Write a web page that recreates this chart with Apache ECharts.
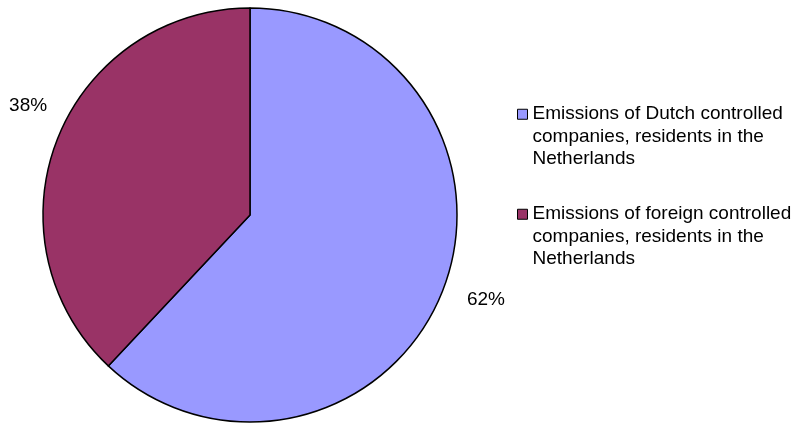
<!DOCTYPE html>
<html>
<head>
<meta charset="utf-8">
<script src="https://cdn.jsdelivr.net/npm/echarts@6/dist/echarts.min.js"></script>
<style>
  html, body { margin: 0; padding: 0; background: #ffffff; }
  #chart { width: 812px; height: 423px; }
</style>
</head>
<body>
<div id="chart"></div>
<script>
// Emission shares of companies resident in the Netherlands, by control
const categories = [
  'Emissions of Dutch controlled\ncompanies, residents in the\nNetherlands',
  'Emissions of foreign controlled\ncompanies, residents in the\nNetherlands'
];
const shares = [62, 38];
const sliceColors = ['#9999FF', '#993366'];

const chart = echarts.init(document.getElementById('chart'), null, { renderer: 'canvas' });

const option = {
  backgroundColor: '#ffffff',
  animation: false,
  color: sliceColors,
  legend: {
    orient: 'vertical',
    left: 517,
    top: 58,
    padding: 0,
    itemGap: -12.5,
    itemWidth: 10,
    itemHeight: 10,
    icon: 'rect',
    selectedMode: false,
    itemStyle: { borderColor: '#000000', borderWidth: 1 },
    // two leading blank lines keep the swatch level with the first text line
    formatter: name => '\n\n' + name,
    textStyle: {
      fontFamily: 'Liberation Sans, Arial, sans-serif',
      fontSize: 19,
      lineHeight: 22.5,
      color: '#000000'
    },
    data: categories
  },
  series: [{
    type: 'pie',
    center: [250, 215],
    radius: 207,
    startAngle: 90,
    clockwise: true,
    avoidLabelOverlap: false,
    itemStyle: { borderColor: '#000000', borderWidth: 1.5 },
    emphasis: { disabled: true },
    label: {
      show: true,
      position: 'outside',
      formatter: '{d}%',
      fontFamily: 'Liberation Sans, Arial, sans-serif',
      fontSize: 19,
      color: '#000000'
    },
    labelLine: { show: false, length: 8, length2: 0 },
    labelLayout: params => params.dataIndex === 0 ? { dx: 12, dy: 6 } : { dx: 2, dy: -30 },
    data: categories.map((name, i) => ({ name: name, value: shares[i] }))
  }]
};

chart.setOption(option);
</script>
</body>
</html>
